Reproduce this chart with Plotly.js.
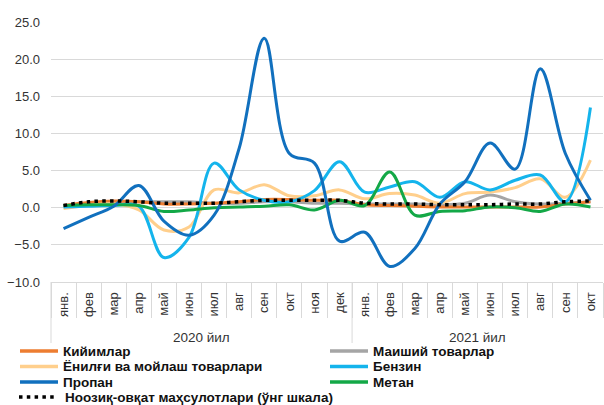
<!DOCTYPE html>
<html>
<head>
<meta charset="utf-8">
<script src="https://cdn.plot.ly/plotly-3.0.1.min.js"></script>
<style>html,body{margin:0;padding:0;background:#fff;}#chart{width:604px;height:405px;}</style>
</head>
<body>
<div id="chart"></div>
<script>
// Month tick labels (Jan 2020 .. Oct 2021)
const months = ["янв.","фев","мар","апр","май","июн","июл","авг","сен","окт","ноя","дек",
                "янв.","фев","мар","апр","май","июн","июл","авг","сен","окт"];
const years = ["2020 йил","2021 йил"];
const yearSizes = [12, 10];

// Series values (%)
const kiyimlar  = [0.3,0.7,0.9,0.8,0.5,0.5,0.6,0.8,1.1,1.1,1.0,1.0,0.4,0.3,0.2,0.1,0.1,0.1,0.1,0.1,0.5,0.8];
const maishiy   = [0.2,0.6,0.8,0.8,0.8,0.8,0.6,0.6,0.8,0.8,0.6,0.6,0.5,0.5,0.5,0.4,0.6,1.7,0.8,0.5,0.6,0.8];
const yonilgi   = [-0.1,0.3,0.5,-0.3,-3.0,-2.6,2.4,2.0,3.1,1.6,1.6,2.4,1.2,1.9,1.7,0.6,1.9,2.1,2.7,3.9,1.4,6.4];
const benzin    = [0.1,0.2,0.3,0.2,-6.7,-4.0,6.0,2.4,1.0,0.8,2.3,6.2,2.1,2.8,3.5,1.4,3.5,2.4,3.7,4.4,0.8,13.5];
const propan    = [-2.8,-1.3,0.2,3.0,-1.8,-3.7,-1.0,8.0,22.8,7.3,6.0,-4.5,-3.3,-7.9,-5.5,0.5,3.5,8.7,5.2,18.7,7.3,1.0];
const metan     = [0.3,0.4,0.4,0.3,-0.5,-0.3,0.0,0.1,0.2,0.4,-0.3,1.0,0.3,4.8,-1.0,-0.5,-0.4,0.1,0.0,-0.5,0.5,0.1];
const noozik    = [0.3,0.8,0.9,0.8,0.6,0.6,0.6,0.8,1.0,1.0,1.0,1.0,0.6,0.5,0.5,0.4,0.4,0.4,0.5,0.5,0.8,0.9];

const names = ["Кийимлар","Маиший товарлар","Ёнилғи ва мойлаш товарлари","Бензин","Пропан","Метан","Ноозиқ-овқат маҳсулотлари (ўнг шкала)"];
const colors = ['#ED7D31','#A5A5A5','#FFCF8C','#14B4EC','#1170BE','#13A847','#000000'];
const series = [kiyimlar, maishiy, yonilgi, benzin, propan, metan, noozik];
const drawOrder = [1, 0, 2, 3, 5, 4, 6];

const xIdx = months.map((m,i)=>i);
const DOT = '3.5px,4.3px';

const data = drawOrder.map(k => ({
  x: xIdx, y: series[k], name: names[k], type:'scatter', mode:'lines',
  line:{color:colors[k], width: k===6 ? 3.5 : 3, shape:'spline', smoothing:1, dash: k===6 ? DOT : 'solid'},
  hoverinfo:'skip', showlegend:false
}));

// geometry helpers (layout only)
const W = 604, H = 405, M = {l:51, r:1, t:22, b:123};
const plotW = W - M.l - M.r, plotH = H - M.t - M.b;
const px2x = p => (p - M.l) / plotW;
const px2y = p => (H - M.b - p) / plotH;

const annotations = [];
const shapes = [];

// year group labels and long dividers
let start = 0;
const nCat = months.length;
yearSizes.forEach((n, k) => {
  annotations.push({
    xref:'x', yref:'paper', x: start + (n-1)/2, y: px2y(337), text: years[k],
    showarrow:false, yanchor:'middle', xanchor:'center',
    font:{family:'Liberation Sans, Arial, sans-serif', size:13.5, color:'#333333'}
  });
  shapes.push({type:'line', xref:'paper', yref:'paper', x0: start/nCat, x1: start/nCat, y0:0, y1:px2y(343),
    line:{color:'#d9d9d9', width:1}});
  start += n;
});

// legend: two columns, entries in reading order
const rowsPx = [351, 366.5, 382, 397];
const colLinePx = [[20, 58], [330, 368]];
const colTextPx = [61, 371];
names.forEach((nm, k) => {
  const row = Math.floor(k / 2), col = k % 2;
  const yy = px2y(rowsPx[row]);
  shapes.push({type:'line', xref:'paper', yref:'paper',
    x0: px2x(colLinePx[col][0] - (k===6 ? 1 : 0)), x1: px2x(colLinePx[col][1] - (k===6 ? 4 : 0)), y0: yy, y1: yy,
    line:{color:colors[k], width:3.5, dash: k===6 ? DOT : 'solid'}});
  annotations.push({xref:'paper', yref:'paper', x: px2x(colTextPx[col] + (k===6 ? 2 : 0)), y: yy,
    xanchor:'left', yanchor:'middle', showarrow:false, text:'<b>'+nm+'</b>',
    font:{family:'Liberation Sans, Arial, sans-serif', size:13.5, color:'#111111'}});
});

const layout = {
  width:W, height:H,
  margin:{l:M.l, r:M.r, t:M.t, b:M.b, autoexpand:false},
  paper_bgcolor:'#ffffff', plot_bgcolor:'#ffffff',
  showlegend:false,
  font:{family:'Liberation Sans, Arial, sans-serif', color:'#333333'},
  xaxis:{
    range:[-0.5, 21.5], tickvals:xIdx, ticktext:months, tickangle:-90,
    showgrid:false, zeroline:false, showline:true, linecolor:'#d9d9d9', linewidth:1,
    ticks:'', ticklabelstandoff:4, automargin:false,
    tickfont:{family:'Liberation Sans, Arial, sans-serif', size:13, color:'#333333'},
    minor:{tick0:0.5, dtick:1, ticks:'outside', ticklen:35, tickcolor:'#d9d9d9', tickwidth:1, showgrid:false}
  },
  yaxis:{
    range:[-10, 25], dtick:5, tick0:0, tickformat:'.1f', automargin:false,
    showgrid:true, gridcolor:'#d9d9d9', gridwidth:1, zeroline:false, showline:false,
    ticks:'', ticklabelstandoff:10,
    tickfont:{family:'Liberation Sans, Arial, sans-serif', size:13, color:'#333333'}
  },
  annotations: annotations,
  shapes: shapes
};

Plotly.newPlot('chart', data, layout, {displayModeBar:false, staticPlot:true});
</script>
</body>
</html>
